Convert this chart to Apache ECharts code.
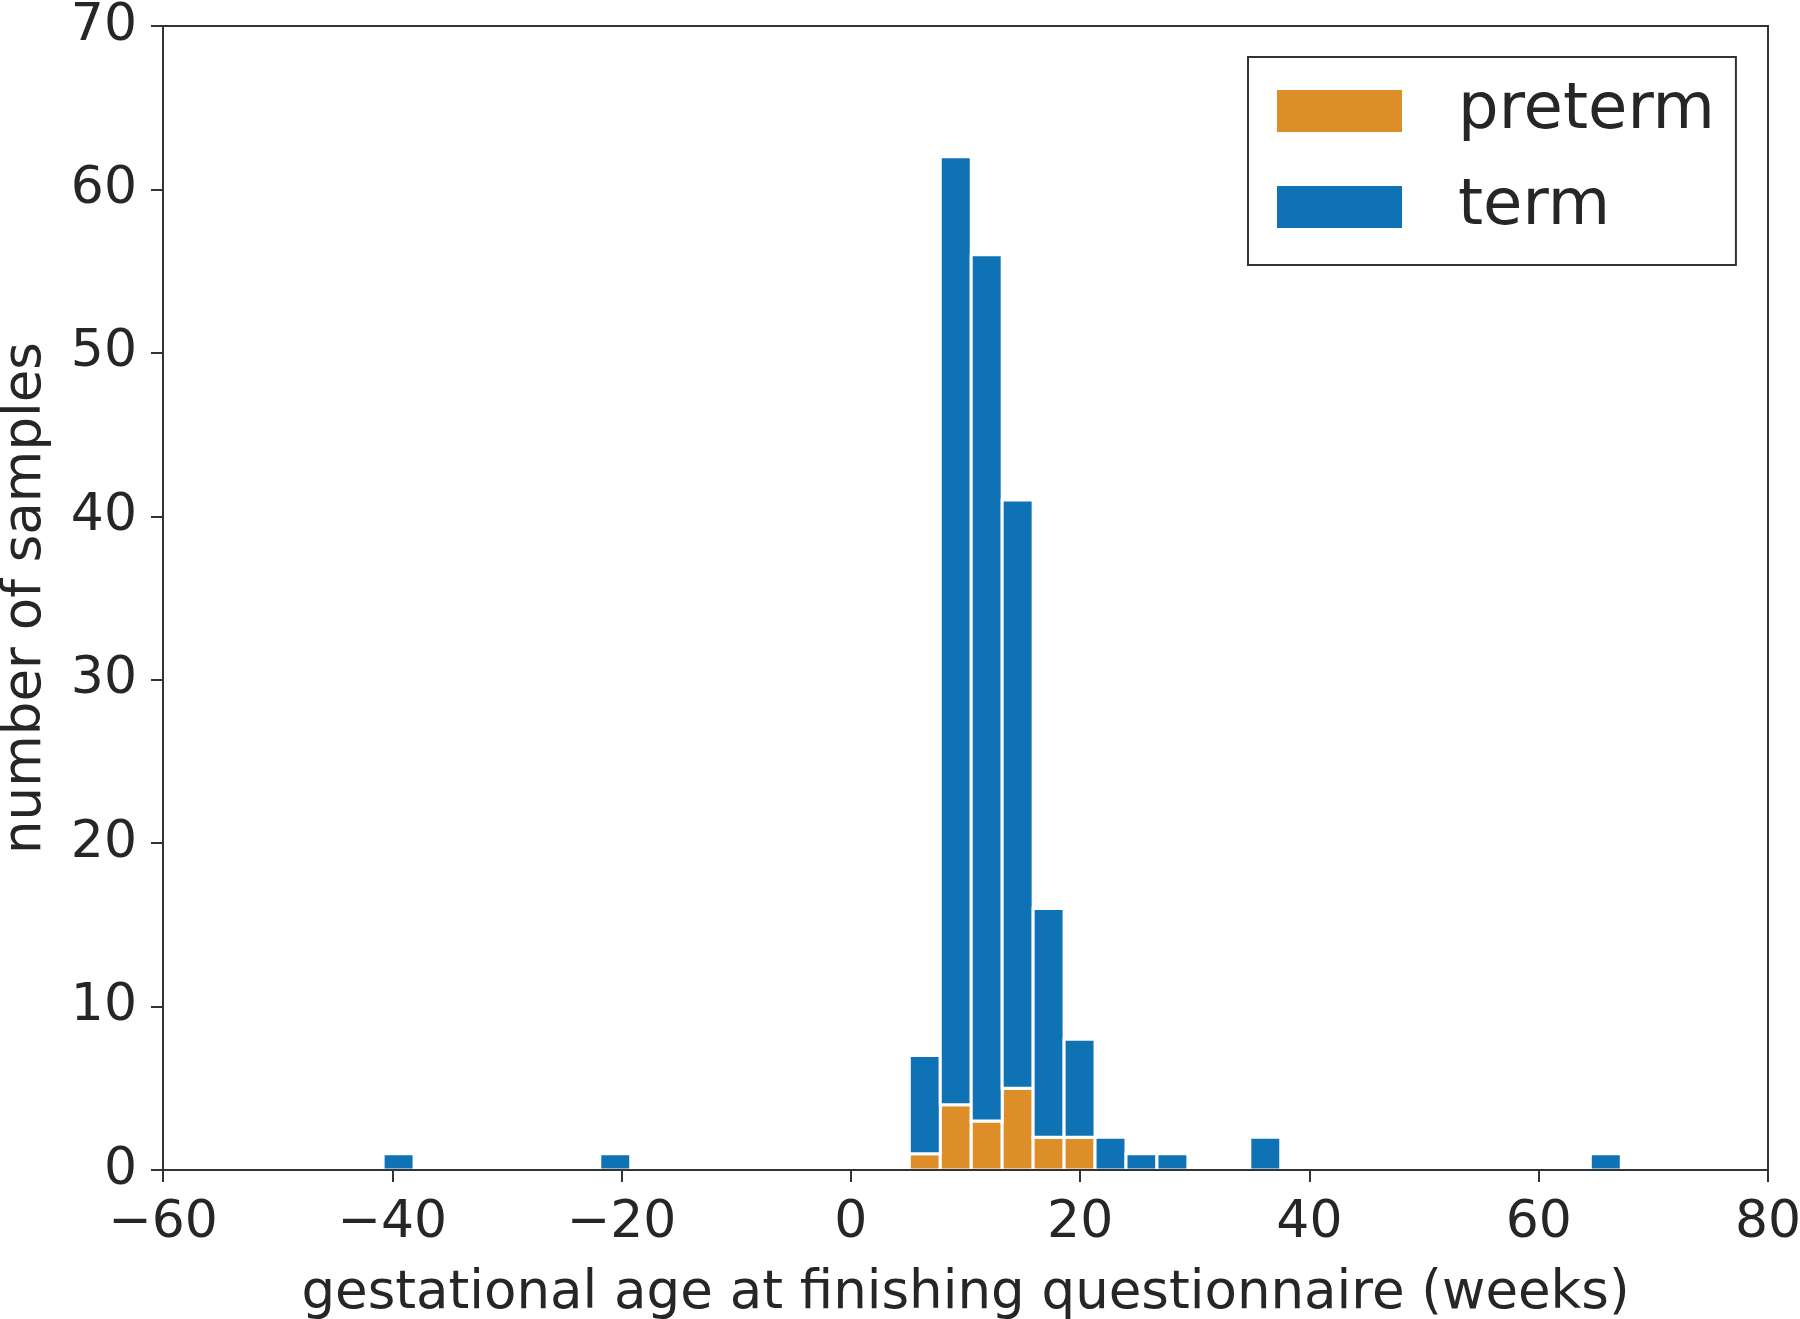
<!DOCTYPE html>
<html lang="en">
<head>
  <meta charset="UTF-8">
  <title>Gestational age histogram</title>
  <style>
    html, body { margin: 0; padding: 0; background: #fff; }
  </style>
</head>
<body>
<div id="main" style="width: 1800px;height:1319px;"></div>
<script src="https://cdn.jsdelivr.net/npm/echarts@6/dist/echarts.min.js"></script>
<script type="text/javascript">
  // histogram bins that have counts (weeks)
  const binLeft = [-40.8, -21.9, 5.1, 7.8, 10.5, 13.2, 15.9, 18.6, 21.3, 24.0, 26.7, 34.8, 64.5]
  const binRight = [-38.1, -19.2, 7.8, 10.5, 13.2, 15.9, 18.6, 21.3, 24.0, 26.7, 29.4, 37.5, 67.2]
  const preterm = [0, 0, 1, 4, 3, 5, 2, 2, 0, 0, 0, 0, 0]
  const term = [1, 1, 6, 58, 53, 36, 14, 6, 2, 1, 1, 2, 1]

  const textColor = '#262626'
  const font = 'DejaVu Sans'

  // [x0, x1, bottom, top]
  const pretermData = binLeft.map((l, i) => [l, binRight[i], 0, preterm[i]]).filter(d => d[3] > 0)
  const termData = binLeft.map((l, i) => [l, binRight[i], preterm[i], preterm[i] + term[i]])

  function renderBar(params, api) {
    const p0 = api.coord([api.value(0), api.value(3)])
    const p1 = api.coord([api.value(1), api.value(2)])
    return {
      type: 'rect',
      shape: { x: p0[0], y: p0[1], width: p1[0] - p0[0], height: p1[1] - p0[1] },
      style: { fill: api.visual('color'), stroke: '#fff', lineWidth: 3 }
    }
  }

  const Chart = echarts.init(document.getElementById('main'))

  const option = {
    backgroundColor: '#fff',
    animation: false,
    textStyle: { fontFamily: font, color: textColor },
    grid: {
      left: 163, right: 32, top: 26, bottom: 149,
      outerBoundsMode: 'none',
      containLabel: false,
      show: true, borderColor: '#333', borderWidth: 2
    },
    legend: {
      orient: 'vertical',
      left: 1248,
      top: 57,
      data: [{ name: 'preterm', icon: 'rect' }, { name: 'term', icon: 'rect' }],
      itemWidth: 125,
      itemHeight: 42,
      itemGap: 32,
      padding: [22, 21, 26, 29],
      borderColor: '#333',
      borderWidth: 2,
      backgroundColor: '#fff',
      textStyle: { fontFamily: font, fontSize: 64, lineHeight: 62, color: textColor, padding: [0, 0, 0, 51] }
    },
    xAxis: {
      type: 'value',
      min: -60,
      max: 80,
      interval: 20,
      z: 5,
      name: 'gestational age at finishing questionnaire (weeks)',
      nameLocation: 'middle',
      nameGap: 98,
      nameTextStyle: { fontFamily: font, fontSize: 53, color: textColor },
      axisLine: { onZero: false, lineStyle: { color: '#333', width: 2 } },
      axisTick: { show: true, length: 12, lineStyle: { color: '#333', width: 2 } },
      axisLabel: {
        margin: 27, fontFamily: font, fontSize: 52, color: textColor,
        formatter: v => String(v).replace('-', '\u2212')
      },
      splitLine: { show: false }
    },
    yAxis: {
      type: 'value',
      min: 0,
      max: 70,
      interval: 10,
      z: 5,
      name: 'number of samples',
      nameLocation: 'middle',
      nameGap: 110,
      nameTextStyle: { fontFamily: font, fontSize: 53, color: textColor },
      axisLine: { show: true, onZero: false, lineStyle: { color: '#333', width: 2 } },
      axisTick: { show: true, length: 12, lineStyle: { color: '#333', width: 2 } },
      axisLabel: { margin: 26, fontFamily: font, fontSize: 52, color: textColor },
      splitLine: { show: false }
    },
    series: [{
      name: 'preterm',
      type: 'custom',
      renderItem: renderBar,
      itemStyle: { color: '#DE8E28' },
      encode: { x: [0, 1], y: [2, 3] },
      data: pretermData
    }, {
      name: 'term',
      type: 'custom',
      renderItem: renderBar,
      itemStyle: { color: '#0E72B4' },
      encode: { x: [0, 1], y: [2, 3] },
      data: termData
    }]
  }

  Chart.setOption(option)
</script>
</body>
</html>
